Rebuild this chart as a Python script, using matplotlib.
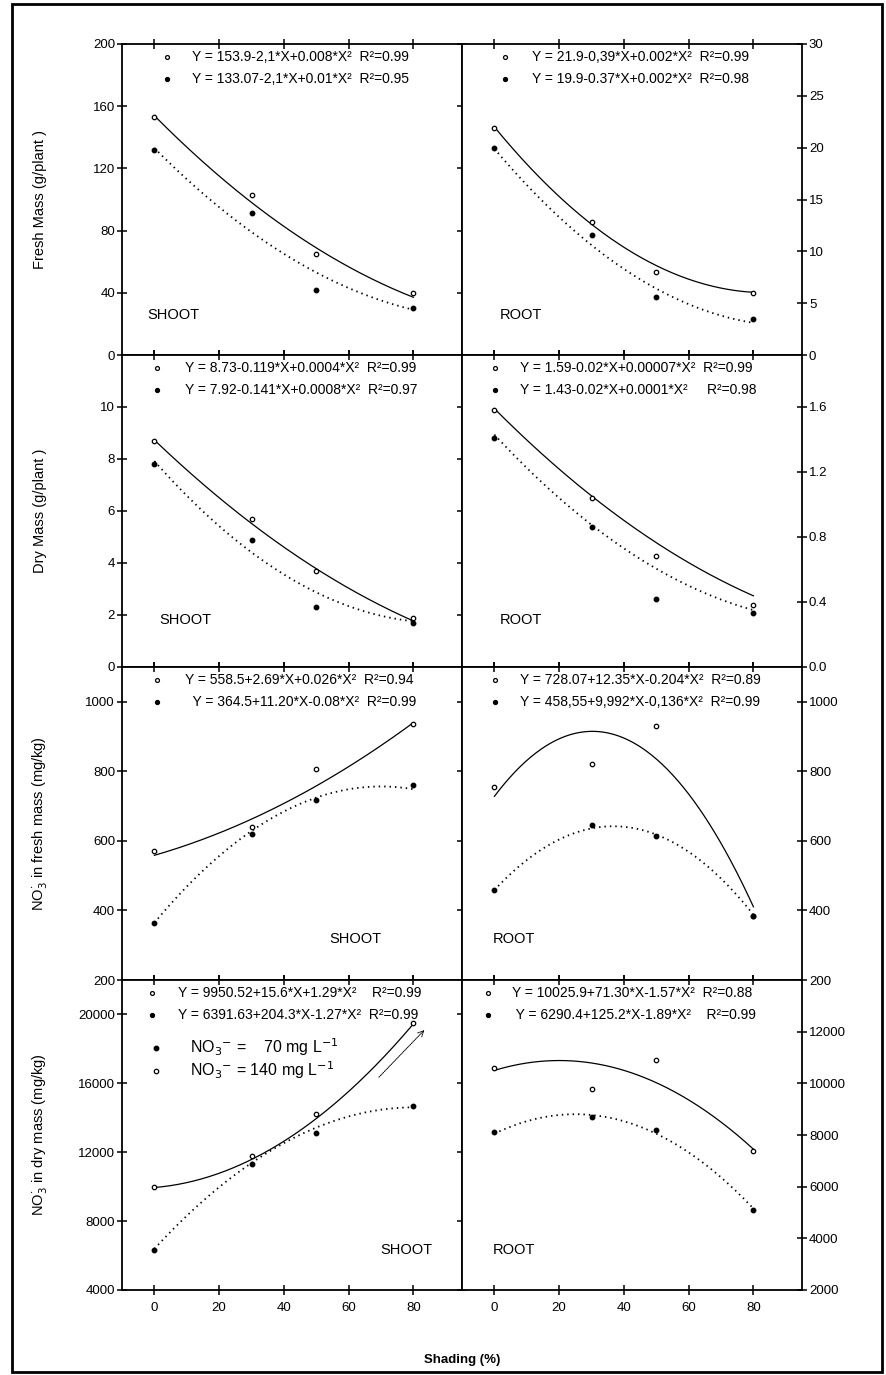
import numpy as np
import matplotlib
matplotlib.use("Agg")
import matplotlib.pyplot as plt
from matplotlib.patches import Rectangle

plt.rcParams['font.family'] = ['Liberation Sans', 'DejaVu Sans']

# ---------------- data ----------------
shading = [0, 30, 50, 80]

fm_shoot_140 = [153, 103, 65, 40]
fm_shoot_70 = [132, 91, 42, 30]
fm_root_140 = [21.9, 12.8, 8.0, 6.0]
fm_root_70 = [20.0, 11.6, 5.6, 3.5]

dm_shoot_140 = [8.7, 5.7, 3.7, 1.9]
dm_shoot_70 = [7.8, 4.9, 2.3, 1.7]
dm_root_140 = [1.58, 1.04, 0.68, 0.38]
dm_root_70 = [1.41, 0.86, 0.42, 0.33]

no3f_shoot_140 = [572, 640, 808, 935]
no3f_shoot_70 = [365, 620, 718, 760]
no3f_root_140 = [755, 820, 930, 385]
no3f_root_70 = [460, 645, 615, 385]

no3d_shoot_140 = [10000, 11800, 14200, 19500]
no3d_shoot_70 = [6300, 11300, 13100, 14700]
no3d_root_140 = [10600, 9800, 10900, 7400]
no3d_root_70 = [8100, 8700, 8200, 5100]

# fitted quadratic curves (c0, c1, c2) as they are drawn on the chart
fit_fm_shoot = [(153.9, -2.1, 0.008), (133.07, -2.1, 0.01)]
fit_fm_root = [(22.0, -0.381, 0.00227), (19.9, -0.37, 0.002)]
fit_dm_shoot = [(8.73, -0.119, 0.0004), (7.92, -0.141, 0.0008)]
fit_dm_root = [(1.59, -0.02, 0.00007), (1.43, -0.0215, 0.0001)]
fit_no3f_shoot = [(558.5, 2.69, 0.026), (364.5, 11.20, -0.08)]
fit_no3f_root = [(728.07, 12.35, -0.204), (458.55, 9.992, -0.136)]
fit_no3d_shoot = [(9950.52, 15.6, 1.29), (6391.63, 204.3, -1.27)]
fit_no3d_root = [(10500, 38.2, -0.954), (8050, 60.4, -1.208)]

eq_fm_shoot = ["Y = 153.9-2,1*X+0.008*X²  R²=0.99", "Y = 133.07-2,1*X+0.01*X²  R²=0.95"]
eq_fm_root = ["Y = 21.9-0,39*X+0.002*X²  R²=0.99", "Y = 19.9-0.37*X+0.002*X²  R²=0.98"]
eq_dm_shoot = ["Y = 8.73-0.119*X+0.0004*X²  R²=0.99", "Y = 7.92-0.141*X+0.0008*X²  R²=0.97"]
eq_dm_root = ["Y = 1.59-0.02*X+0.00007*X²  R²=0.99", "Y = 1.43-0.02*X+0.0001*X²     R²=0.98"]
eq_no3f_shoot = ["Y = 558.5+2.69*X+0.026*X²  R²=0.94", "  Y = 364.5+11.20*X-0.08*X²  R²=0.99"]
eq_no3f_root = ["Y = 728.07+12.35*X-0.204*X²  R²=0.89", "Y = 458,55+9,992*X-0,136*X²  R²=0.99"]
eq_no3d_shoot = ["Y = 9950.52+15.6*X+1.29*X²    R²=0.99", "Y = 6391.63+204.3*X-1.27*X²  R²=0.99"]
eq_no3d_root = ["Y = 10025.9+71.30*X-1.57*X²  R²=0.88", " Y = 6290.4+125.2*X-1.89*X²    R²=0.99"]

# ---------------- layout ----------------
W, H = 886, 1375
fig = plt.figure(figsize=(W / 100, H / 100), dpi=100)

xl, xm, xr = 122, 462, 802
rows_y = [44, 355, 667, 980, 1290]


def add_ax(x0, x1, y0, y1):
    return fig.add_axes([x0 / W, 1 - y1 / H, (x1 - x0) / W, (y1 - y0) / H])


panels = [
    # (row, col, data140, data70, fits, eqs, ylim, yticks, fmt, label, label_pos, marker_x, text_x)
    (0, 0, fm_shoot_140, fm_shoot_70, fit_fm_shoot, eq_fm_shoot, (0, 200), np.arange(0, 201, 40), "%d", "SHOOT", (0.075, 0.13), 0.132, 0.205),
    (0, 1, fm_root_140, fm_root_70, fit_fm_root, eq_fm_root, (0, 30), np.arange(0, 31, 5), "%d", "ROOT", (0.11, 0.13), 0.126, 0.205),
    (1, 0, dm_shoot_140, dm_shoot_70, fit_dm_shoot, eq_dm_shoot, (0, 12), np.arange(0, 11, 2), "%d", "SHOOT", (0.11, 0.15), 0.103, 0.185),
    (1, 1, dm_root_140, dm_root_70, fit_dm_root, eq_dm_root, (0, 1.92), np.arange(0, 1.61, 0.4), "%.1f", "ROOT", (0.11, 0.15), 0.097, 0.172),
    (2, 0, no3f_shoot_140, no3f_shoot_70, fit_no3f_shoot, eq_no3f_shoot, (200, 1100), np.arange(200, 1001, 200), "%d", "SHOOT", (0.61, 0.13), 0.103, 0.185),
    (2, 1, no3f_root_140, no3f_root_70, fit_no3f_root, eq_no3f_root, (200, 1100), np.arange(200, 1001, 200), "%d", "ROOT", (0.09, 0.13), 0.097, 0.17),
    (3, 0, no3d_shoot_140, no3d_shoot_70, fit_no3d_shoot, eq_no3d_shoot, (4000, 22000), np.arange(4000, 20001, 4000), "%d", "SHOOT", (0.76, 0.13), 0.088, 0.165),
    (3, 1, no3d_root_140, no3d_root_70, fit_no3d_root, eq_no3d_root, (2000, 14000), np.arange(2000, 12001, 2000), "%d", "ROOT", (0.09, 0.13), 0.075, 0.148),
]

xx = np.linspace(0, 80, 200)
axes = {}
for (r, c, d140, d70, fits, eqs, ylim, yt, fmt, lab, lpos, mx, tx) in panels:
    x0, x1 = (xl, xm) if c == 0 else (xm, xr)
    ax = add_ax(x0, x1, rows_y[r], rows_y[r + 1])
    axes[(r, c)] = ax
    ax.set_xlim(-10, 95)
    ax.set_ylim(*ylim)
    ax.set_xticks([0, 20, 40, 60, 80])
    ax.set_yticks(yt)
    ax.yaxis.set_major_formatter(matplotlib.ticker.FormatStrFormatter(fmt))
    ax.tick_params(direction='inout', length=7, width=1.1, top=True, bottom=True,
                   labelsize=9.5, pad=1.5)
    ax.tick_params(axis='x', pad=5)
    if c == 0:
        ax.tick_params(axis='y', left=True, right=True, labelleft=True, labelright=False)
    else:
        ax.tick_params(axis='y', left=False, right=True, labelleft=False, labelright=True)
    ax.tick_params(labelbottom=(r == 3), labeltop=False)
    for s in ax.spines.values():
        s.set_linewidth(1.3)

    # fitted curves
    y140 = np.polyval(fits[0][::-1], xx)
    y70 = np.polyval(fits[1][::-1], xx)
    ax.plot(xx, y140, color='black', lw=0.9)
    ax.plot(xx, y70, color='black', lw=1.3, ls=(0, (0.8, 2.2)))
    # points
    ax.plot(shading, d140, ls='none', marker='o', ms=3.2, mfc='white', mec='black', mew=0.9)
    ax.plot(shading, d70, ls='none', marker='o', ms=3.2, mfc='black', mec='black')

    # equations legend
    ax.plot([mx], [0.957], transform=ax.transAxes, ls='none', marker='o', ms=2.8,
            mfc='white', mec='black', mew=0.9, clip_on=False)
    ax.plot([mx], [0.887], transform=ax.transAxes, ls='none', marker='o', ms=2.8,
            mfc='black', mec='black', clip_on=False)
    ax.text(tx, 0.957, eqs[0], transform=ax.transAxes, fontsize=10, va='center', ha='left')
    ax.text(tx, 0.887, eqs[1], transform=ax.transAxes, fontsize=10, va='center', ha='left')

    ax.text(lpos[0], lpos[1], lab, transform=ax.transAxes, fontsize=10.5, va='center', ha='left')

# y labels
ylabs = ["Fresh Mass (g/plant )", "Dry Mass (g/plant )",
         "NO$_3^{\\cdot}$ in fresh mass (mg/kg)", "NO$_3^{\\cdot}$ in dry mass (mg/kg)"]
for r in range(4):
    yc = (rows_y[r] + rows_y[r + 1]) / 2
    fig.text(40 / W, 1 - yc / H, ylabs[r], rotation=90, va='center', ha='center', fontsize=10.5)

# extra legend in NO3 dry mass shoot panel
ax = axes[(3, 0)]
ax.plot([0.1], [0.78], transform=ax.transAxes, ls='none', marker='o', ms=3.2,
        mfc='black', mec='black', clip_on=False)
ax.plot([0.1], [0.705], transform=ax.transAxes, ls='none', marker='o', ms=3.2,
        mfc='white', mec='black', mew=0.9, clip_on=False)
ax.text(0.2, 0.785, "NO$_3$$^{-}$ =    70 mg L$^{-1}$", transform=ax.transAxes,
        fontsize=11.5, va='center', ha='left')
ax.text(0.2, 0.71, "NO$_3$$^{-}$ = 140 mg L$^{-1}$", transform=ax.transAxes,
        fontsize=11.5, va='center', ha='left')
ax.annotate("", xy=(0.895, 0.845), xytext=(0.75, 0.68), xycoords='axes fraction',
            arrowprops=dict(arrowstyle='->', lw=0.7, ls=(0, (1, 1)), color='black'))

fig.text(((xl + xr) / 2) / W, 1 - 1360 / H, "Shading (%)", ha='center', va='center',
         fontsize=9.5, fontweight='bold')

# outer frame
fig.patches.append(Rectangle((12 / W, 1 - 1372 / H), (882 - 12) / W, (1372 - 4) / H,
                             transform=fig.transFigure, fill=False, lw=2, ec='black'))

fig.savefig("out.png", dpi=100)
